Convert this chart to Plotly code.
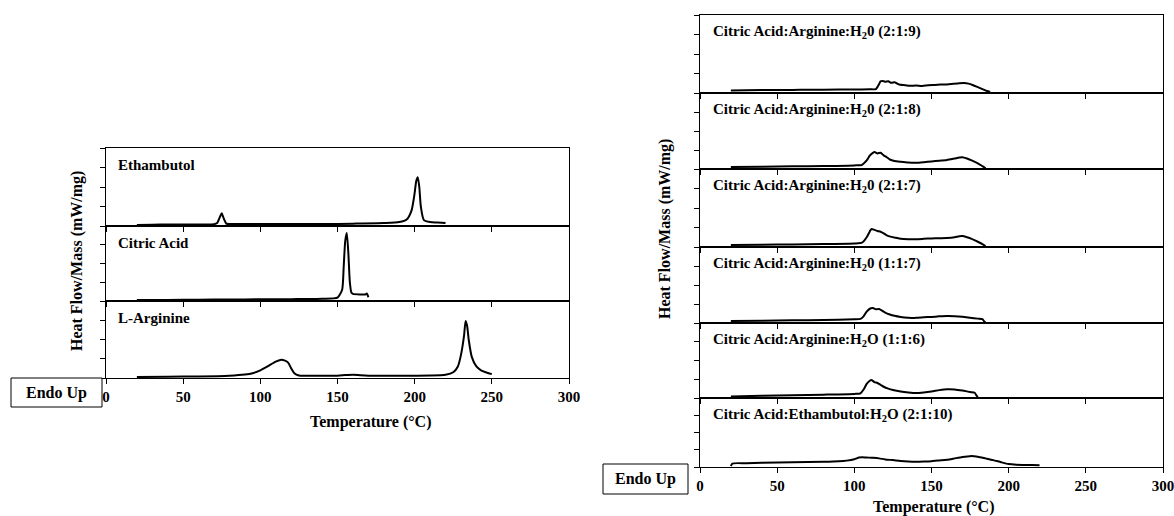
import plotly.graph_objects as go

# ---------------- data ----------------
# Left chart: pure compounds
eth_x = [20, 30, 40, 50, 60, 70, 72, 74, 75, 76, 78, 80, 90, 100, 120, 140, 160, 180, 190, 195, 198, 200, 201, 202, 203, 204, 206, 210, 215, 220]
eth_y = [0.05, 0.07, 0.08, 0.08, 0.08, 0.09, 0.15, 0.5, 0.65, 0.45, 0.12, 0.1, 0.1, 0.1, 0.1, 0.1, 0.12, 0.15, 0.2, 0.35, 0.8, 1.7, 2.3, 2.5, 2.0, 1.0, 0.3, 0.2, 0.18, 0.15]

ca_x = [20, 40, 60, 80, 100, 120, 140, 150, 153, 154, 155, 156, 157, 158, 159, 160, 165, 168, 169, 170]
ca_y = [0.05, 0.06, 0.07, 0.08, 0.09, 0.1, 0.12, 0.18, 0.6, 1.8, 3.2, 3.63, 2.6, 1.0, 0.45, 0.38, 0.35, 0.35, 0.4, 0.2]

arg_x = [20, 40, 60, 80, 90, 95, 100, 105, 110, 113, 116, 118, 120, 122, 125, 130, 140, 150, 155, 160, 165, 170, 190, 210, 220, 225, 228, 230, 232, 233, 234, 235, 237, 240, 243, 246, 250]
arg_y = [0.05, 0.07, 0.08, 0.12, 0.18, 0.25, 0.4, 0.62, 0.85, 0.94, 0.9, 0.8, 0.5, 0.25, 0.13, 0.12, 0.12, 0.12, 0.15, 0.17, 0.14, 0.12, 0.12, 0.13, 0.17, 0.3, 0.6, 1.2, 2.2, 2.96, 2.7, 2.0, 1.1, 0.6, 0.4, 0.3, 0.2]

left_labels = ["Ethambutol", "Citric Acid", "L-Arginine"]

# Right chart: mixtures
r1_x = [20, 40, 60, 70, 80, 100, 110, 114, 116, 117, 118, 120, 122, 124, 126, 128, 130, 133, 136, 140, 144, 148, 152, 156, 160, 164, 168, 171, 174, 177, 180, 183, 186, 188]
r1_y = [0.13, 0.15, 0.16, 0.17, 0.17, 0.18, 0.19, 0.2, 0.45, 0.6, 0.62, 0.58, 0.6, 0.52, 0.55, 0.47, 0.42, 0.4, 0.37, 0.38, 0.36, 0.4, 0.41, 0.43, 0.44, 0.47, 0.5, 0.51, 0.48, 0.4, 0.3, 0.2, 0.1, 0.05]

r2_x = [20, 40, 60, 80, 100, 105, 108, 110, 112, 113, 115, 117, 119, 121, 123, 126, 130, 135, 140, 145, 150, 155, 160, 165, 168, 170, 173, 176, 180, 183, 185]
r2_y = [0.1, 0.12, 0.14, 0.16, 0.19, 0.22, 0.45, 0.7, 0.85, 0.9, 0.82, 0.86, 0.72, 0.62, 0.5, 0.42, 0.38, 0.34, 0.33, 0.36, 0.4, 0.43, 0.47, 0.55, 0.6, 0.62, 0.55, 0.45, 0.3, 0.15, 0.05]

r3_x = [20, 40, 60, 80, 100, 105, 108, 110, 111, 113, 115, 117, 119, 121, 124, 127, 130, 135, 140, 145, 150, 155, 160, 165, 168, 170, 173, 176, 180, 183, 185]
r3_y = [0.1, 0.12, 0.13, 0.15, 0.18, 0.22, 0.5, 0.8, 0.92, 0.88, 0.82, 0.78, 0.7, 0.6, 0.52, 0.47, 0.42, 0.4, 0.4, 0.42, 0.44, 0.45, 0.46, 0.5, 0.55, 0.56, 0.5, 0.42, 0.27, 0.15, 0.05]

r4_x = [20, 40, 60, 80, 100, 104, 106, 108, 110, 112, 114, 116, 118, 120, 123, 126, 130, 135, 140, 145, 150, 155, 160, 165, 170, 175, 180, 183, 184, 185]
r4_y = [0.1, 0.12, 0.14, 0.16, 0.2, 0.22, 0.35, 0.6, 0.75, 0.79, 0.72, 0.74, 0.65, 0.55, 0.45, 0.38, 0.32, 0.28, 0.27, 0.3, 0.32, 0.35, 0.37, 0.36, 0.33, 0.28, 0.23, 0.2, 0.1, 0.03]

r5_x = [20, 40, 60, 80, 100, 104, 106, 108, 110, 111, 113, 115, 117, 119, 122, 125, 130, 135, 140, 145, 150, 155, 160, 165, 170, 175, 178, 179, 180]
r5_y = [0.08, 0.12, 0.15, 0.18, 0.22, 0.25, 0.45, 0.75, 0.92, 0.96, 0.85, 0.8, 0.7, 0.6, 0.5, 0.43, 0.35, 0.3, 0.27, 0.3, 0.35, 0.42, 0.47, 0.46, 0.4, 0.32, 0.28, 0.15, 0.05]

r6_x = [20, 21, 30, 40, 60, 80, 90, 95, 100, 103, 105, 108, 112, 116, 120, 125, 130, 135, 140, 145, 150, 155, 160, 165, 170, 175, 180, 185, 190, 195, 200, 205, 210, 215, 220]
r6_y = [0.05, 0.2, 0.22, 0.24, 0.27, 0.3, 0.33, 0.37, 0.45, 0.55, 0.57, 0.55, 0.53, 0.5, 0.44, 0.4, 0.35, 0.32, 0.31, 0.32, 0.34, 0.38, 0.42, 0.5, 0.58, 0.63, 0.6, 0.5, 0.4, 0.28, 0.17, 0.13, 0.12, 0.11, 0.1]

right_labels = [
    "Citric Acid:Arginine:H<sub>2</sub>0 (2:1:9)",
    "Citric Acid:Arginine:H<sub>2</sub>0 (2:1:8)",
    "Citric Acid:Arginine:H<sub>2</sub>0 (2:1:7)",
    "Citric Acid:Arginine:H<sub>2</sub>0 (1:1:7)",
    "Citric Acid:Arginine:H<sub>2</sub>O (1:1:6)",
    "Citric Acid:Ethambutol:H<sub>2</sub>O (2:1:10)",
]

x_ticks = [0, 50, 100, 150, 200, 250, 300]
x_tick_labels = ["0", "50", "100", "150", "200", "250", "300"]
x_title = "Temperature (°C)"
y_title = "Heat Flow/Mass (mW/mg)"
endo_text = "Endo Up"

# ---------------- layout helpers ----------------
W, H = 1174, 516
FONT = "Liberation Serif, Times New Roman, serif"

def px_x(p):
    return p / W

def px_y(p):
    return 1 - p / H

left_series = [(eth_x, eth_y), (ca_x, ca_y), (arg_x, arg_y)]
right_series = [(r1_x, r1_y), (r2_x, r2_y), (r3_x, r3_y), (r4_x, r4_y), (r5_x, r5_y), (r6_x, r6_y)]

left_edges = [148, 226, 301, 378]
right_edges = [15, 93, 169, 247, 323, 398, 467]
left_xdom = [px_x(106), px_x(569)]
right_xdom = [px_x(700), px_x(1163)]

fig = go.Figure()
layout = dict(
    width=W, height=H,
    margin=dict(l=0, r=0, t=0, b=0),
    paper_bgcolor="white", plot_bgcolor="white",
    showlegend=False,
    font=dict(family=FONT, color="black"),
)
annotations = []
shapes = []

panels = []
for i, (sx, sy) in enumerate(left_series):
    panels.append((sx, sy, left_xdom, left_edges[i], left_edges[i + 1], i == len(left_series) - 1,
                   left_labels[i], 116))
for i, (sx, sy) in enumerate(right_series):
    panels.append((sx, sy, right_xdom, right_edges[i], right_edges[i + 1], i == len(right_series) - 1,
                   right_labels[i], 711))

for k, (sx, sy, xdom, top, bot, is_bottom, label, lab_x) in enumerate(panels):
    n = k + 1
    xa = "x" if n == 1 else f"x{n}"
    ya = "y" if n == 1 else f"y{n}"
    fig.add_trace(go.Scatter(x=sx, y=sy, mode="lines", xaxis=xa, yaxis=ya,
                             line=dict(color="black", width=2, shape="spline", smoothing=0.6),
                             hoverinfo="skip"))
    xkey = "xaxis" if n == 1 else f"xaxis{n}"
    ykey = "yaxis" if n == 1 else f"yaxis{n}"
    layout[xkey] = dict(
        domain=xdom, anchor=ya, range=[0, 300], tickvals=x_ticks,
        ticktext=[f"<b>{t}</b>" for t in x_tick_labels],
        showgrid=False, zeroline=False, showline=True, mirror=True,
        linecolor="black", linewidth=1, ticks="outside", ticklen=5, tickcolor="black",
        showticklabels=is_bottom, automargin=False, ticklabeloverflow="allow",
        tickfont=dict(family=FONT, size=15, color="black"),
    )
    layout[ykey] = dict(
        domain=[px_y(bot), px_y(top)], anchor=xa, range=[0, 4], dtick=1,
        showgrid=False, zeroline=False, showline=True, mirror=True,
        linecolor="black", linewidth=1, ticks="outside", ticklen=5, tickcolor="black",
        showticklabels=False, automargin=False,
    )
    annotations.append(dict(
        x=px_x(lab_x), y=px_y(top + 17), xref="paper", yref="paper",
        xanchor="left", yanchor="middle", showarrow=False,
        text=f"<b>{label}</b>", font=dict(family=FONT, size=15, color="black"),
    ))

# axis titles
for cx, cy in [(370, 422), (933, 507)]:
    annotations.append(dict(x=px_x(cx), y=px_y(cy), xref="paper", yref="paper",
                            xanchor="center", yanchor="middle", showarrow=False,
                            text=f"<b>{x_title}</b>", font=dict(family=FONT, size=16, color="black")))
for cx, cy in [(77, 261), (665, 229)]:
    annotations.append(dict(x=px_x(cx), y=px_y(cy), xref="paper", yref="paper",
                            xanchor="center", yanchor="middle", showarrow=False, textangle=-90,
                            text=f"<b>{y_title}</b>", font=dict(family=FONT, size=16, color="black")))

# Endo Up boxes
for x0, y0, x1, y1 in [(11, 378, 102, 407), (603, 464, 688, 494)]:
    shapes.append(dict(type="rect", xref="paper", yref="paper",
                       x0=px_x(x0), x1=px_x(x1), y0=px_y(y1), y1=px_y(y0),
                       line=dict(color="black", width=1), fillcolor="white"))
    annotations.append(dict(x=px_x((x0 + x1) / 2), y=px_y((y0 + y1) / 2), xref="paper", yref="paper",
                            xanchor="center", yanchor="middle", showarrow=False,
                            text=f"<b>{endo_text}</b>", font=dict(family=FONT, size=16, color="black")))

layout["annotations"] = annotations
layout["shapes"] = shapes
fig.update_layout(**layout)
fig.write_html("out.html", config={"displayModeBar": False},
               post_script="document.body.style.margin='0';document.body.style.padding='0';document.body.style.overflow='hidden';")
